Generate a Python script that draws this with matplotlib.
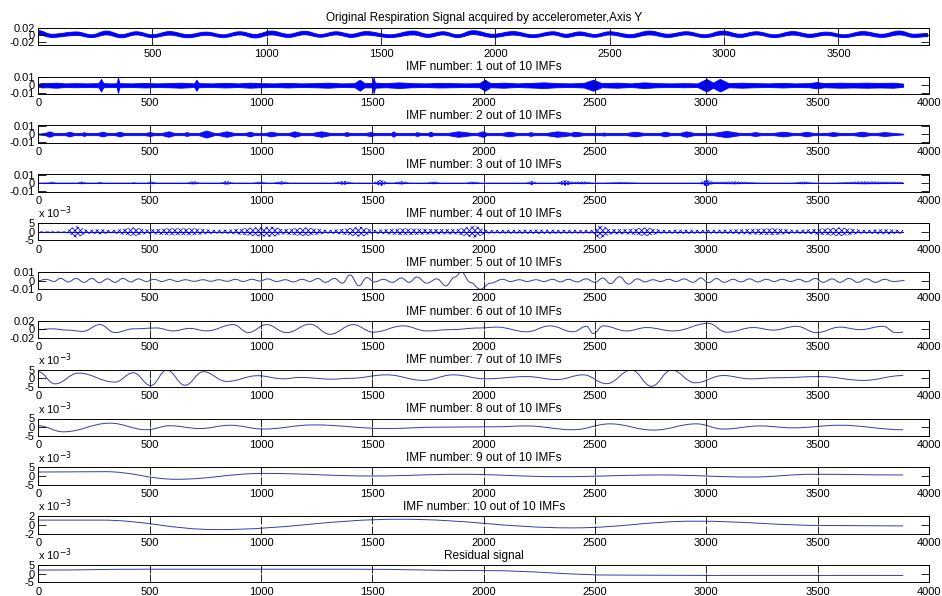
import numpy as np
import matplotlib.pyplot as plt
from matplotlib.path import Path
from matplotlib.patches import PathPatch

plt.rcParams['font.family'] = ['Liberation Sans', 'DejaVu Sans']
plt.rcParams['hatch.linewidth'] = 0.6

# original breathing signal: centre of the noisy trace and its half thickness (x 1e-3)
orig_x = [0, 60, 168, 235, 299, 365, 430, 500, 576, 655, 736, 810, 882, 950, 1020, 1095,
          1166, 1235, 1304, 1370, 1435, 1540, 1640, 1705, 1771, 1835, 1902, 1990, 2077,
          2165, 2252, 2310, 2368, 2435, 2500, 2590, 2674, 2755, 2835, 2915, 2995, 3070,
          3141, 3220, 3301, 3375, 3447, 3525, 3607, 3690, 3767, 3830, 3890]
orig_c = [7, -2, 4, -3, 6, -3, 5, -3, 5, -3, 4, -3, 5, -3, 6, -2,
          6, -2, 5, -2, 5, -3, 6, -2, 5, -3, 7, -2, 5,
          -3, 5, -2, 4, -2, 5, -3, 6, -2, 5, -3, 6, -2,
          5, -3, 5, -2, 4, -3, 5, -2, 6, -2, 0]
orig_hw = [6, 4.5, 5, 4, 5.5, 4.5, 4.5, 4, 5, 4.5, 4.5, 4, 4.5, 5, 5.5, 4.5,
           5, 4, 4.5, 4.5, 5, 4, 5.5, 4.5, 4.5, 4, 5.5, 4.5, 5,
           4, 4.5, 4.5, 5, 4, 4.5, 4.5, 5.5, 4.5, 4.5, 4, 5.5, 4.5,
           4.5, 4, 5, 4.5, 4.5, 4, 5, 4.5, 5.5, 4.5, 4.5]

# IMF 1..4: half width of the oscillation band (x 1e-3)
imf1_x = [0, 15, 40, 80, 120, 170, 220, 270, 282, 292, 330, 352, 358, 364, 420, 480,
          530, 580, 640, 700, 710, 720, 780, 840, 900, 950, 1000, 1060, 1120, 1180,
          1240, 1300, 1360, 1420, 1444, 1465, 1500, 1506, 1512, 1560, 1620, 1680, 1740,
          1800, 1860, 1920, 1980, 2006, 2030, 2090, 2150, 2210, 2270, 2330, 2390, 2450,
          2492, 2530, 2600, 2660, 2720, 2780, 2840, 2900, 2960, 3001, 3030, 3061, 3100,
          3160, 3220, 3280, 3340, 3400, 3460, 3495, 3530, 3600, 3660, 3720, 3780, 3840,
          3884]
imf1_hw = [1.8, 2.9, 2.6, 3.2, 2.3, 2.6, 2.3, 2.6, 8, 2.6, 2.3, 2.6, 10, 2.6, 2.3, 2.9,
           2.3, 2.6, 3.2, 2.3, 7, 2.6, 2.3, 2.9, 2.3, 3.2, 2.6, 2.3, 2.9, 2.3,
           2.6, 3.2, 2.3, 2.6, 7, 2.6, 2.9, 10, 3.2, 2.6, 3.6, 2.6, 2.3,
           2.9, 2.6, 2.3, 2.6, 7, 2.6, 3.2, 2.3, 2.9, 3.6, 2.6, 2.3, 2.9,
           7, 2.6, 3.2, 2.3, 3.6, 2.6, 2.3, 2.6, 2.3, 8, 3.2, 8, 2.6,
           3.2, 2.6, 2.3, 2.9, 2.3, 2.6, 4, 2.6, 3.2, 2.9, 3.2, 2.9, 3.2,
           2]

imf2_x = [0, 30, 50, 70, 120, 140, 160, 195, 205, 215, 265, 290, 310, 345, 365, 385,
          480, 500, 520, 555, 585, 610, 655, 666, 680, 720, 755, 790, 810, 845, 880,
          930, 950, 970, 1020, 1045, 1075, 1125, 1150, 1180, 1230, 1270, 1310, 1370,
          1385, 1400, 1470, 1490, 1510, 1585, 1594, 1605, 1690, 1700, 1715, 1750, 1760,
          1775, 1840, 1885, 1930, 1950, 1970, 1995, 2015, 2080, 2115, 2150, 2200, 2210,
          2225, 2280, 2330, 2390, 2410, 2450, 2530, 2540, 2550, 2640, 2680, 2720, 2790,
          2815, 2840, 2880, 2910, 2945, 3030, 3090, 3150, 3195, 3220, 3245, 3300, 3345,
          3390, 3420, 3450, 3480, 3540, 3570, 3600, 3660, 3700, 3735, 3765, 3800, 3840,
          3884]
imf2_hw = [0.5, 1.4, 3.5, 1.4, 1.4, 3, 1.4, 1.4, 2.5, 1.4, 1.4, 3, 1.4, 1.4, 3, 1.4,
           1.4, 2.5, 1.4, 1.4, 3.5, 1.4, 1.4, 2.5, 1.4, 1.4, 4.5, 1.4, 1.4, 3.5, 1.4,
           1.4, 3, 1.4, 1.4, 3, 1.4, 1.4, 3.5, 1.4, 1.4, 3.5, 1.4, 1.4,
           2.5, 1.4, 1.4, 2.5, 1.4, 1.4, 3.5, 1.4, 1.4, 2.5, 1.4, 1.4, 3,
           1.4, 1.4, 3.5, 2, 1.4, 1.4, 3.5, 1.4, 1.4, 3, 1.4, 1.4, 2.5,
           1.4, 1.4, 3.5, 1.6, 3, 1.4, 1.4, 2, 1.4, 1.4, 3, 1.4, 1.4,
           3, 1.4, 1.4, 3.5, 1.4, 1.4, 4, 1.4, 1.4, 2.5, 1.4, 1.4, 3,
           1.4, 1.4, 3, 1.4, 1.4, 2.5, 1.4, 1.4, 3, 1.4, 1.4, 2.5, 1.4,
           0.5]

imf3_x = [0, 40, 60, 82, 172, 195, 217, 262, 277, 292, 420, 427, 440, 487, 510, 531,
          666, 696, 726, 816, 846, 876, 965, 995, 1025, 1055, 1090, 1130, 1325, 1370,
          1415, 1504, 1540, 1564, 1594, 1630, 1669, 1744, 1775, 1804, 1923, 1950, 1983,
          2193, 2215, 2238, 2328, 2365, 2402, 2450, 2492, 2537, 2620, 2702, 2971, 3000,
          3031, 3130, 3241, 3390, 3435, 3480, 3570, 3700, 3884]
imf3_hw = [0.5, 0.5, 1.5, 0.5, 0.5, 1.8, 0.5, 0.5, 1.5, 0.5, 0.5, 1.2, 0.5, 0.5, 1.8, 0.5,
           0.5, 2.2, 0.5, 0.5, 2.5, 0.5, 0.5, 1.8, 0.5, 0.5, 2.2, 0.5, 0.5, 2.5,
           0.5, 0.5, 4, 0.8, 0.5, 2.2, 0.5, 0.5, 1.8, 0.5, 0.5, 1.8, 0.5,
           0.5, 3, 0.5, 0.5, 3.5, 1.2, 1.8, 0.5, 0.5, 1.2, 0.5, 0.5, 4.5,
           1.2, 1.8, 0.5, 0.5, 1.8, 0.5, 0.5, 1.8, 1.2]

imf4_x = [0, 120, 170, 217, 280, 330, 430, 490, 580, 700, 790, 860, 970, 1050, 1100,
          1200, 1300, 1360, 1450, 1500, 1640, 1780, 1880, 1960, 2013, 2250, 2490, 2520,
          2570, 2650, 2730, 2800, 2900, 3000, 3100, 3300, 3400, 3480, 3600, 3700, 3800,
          3884]
imf4_hw = [0.3, 0.3, 3.5, 1, 1.5, 0.8, 2.5, 1.2, 2, 2, 1, 1.2, 2.5, 3, 1.5,
           2.5, 1, 1.5, 3, 1, 2, 1.5, 1.5, 3.5, 1, 1.2, 1, 4,
           1.5, 1.5, 2.5, 1, 1.2, 1, 1.2, 2, 1, 1.5, 2.5, 1, 1.5,
           1]

# IMF 5..10 and residual: turning points of the smooth components (x 1e-3)
imf5_x = [0, 35, 70, 100, 135, 170, 205, 240, 275, 310, 345, 380, 415, 450, 485, 520,
          555, 590, 625, 660, 700, 740, 775, 810, 850, 885, 920, 960, 995, 1030, 1070,
          1110, 1145, 1185, 1220, 1255, 1290, 1330, 1365, 1400, 1440, 1475, 1510, 1550,
          1590, 1630, 1665, 1700, 1745, 1790, 1830, 1870, 1900, 1940, 1985, 2030, 2085,
          2120, 2160, 2195, 2235, 2270, 2310, 2345, 2380, 2420, 2460, 2500, 2535, 2570,
          2610, 2650, 2690, 2725, 2760, 2795, 2830, 2865, 2900, 2940, 2975, 3010, 3045,
          3080, 3120, 3155, 3195, 3230, 3270, 3305, 3340, 3380, 3415, 3450, 3490, 3525,
          3565, 3600, 3640, 3680, 3720, 3760, 3800, 3840, 3890]
imf5_v = [0, 1.5, -1, 2.5, -1.5, 2.5, -2, 2.5, -2.5, 2, -2, 2.5, -1.5, 2, -1, 1.5,
          -1, 1.2, -1, 1, -0.8, 1, -0.8, 1, -0.8, 1.5, -1, 1.5, -0.5, 2, -1,
          1, -1.5, 1.5, -1, 2.5, -2, 2.5, -3, 6.5, -6, 3.5, -1.5, 1.5,
          -2, 3, -2, 4, -3, 2, -6, 4, 10, -2, -10, -3, 1.5,
          -1, 1, -1, 1, -1, 1.5, -1.5, 1.5, -1.5, 2, -2, 3, -3.5,
          4.5, -4, 2, -1.5, 1, -1, 1.5, -1, 2, -2, 3, -2.5, 2.5,
          -2, 1.5, -1.5, 2, -1.5, 1.5, -1, 1.5, -1, 1.5, -1.5, 2.5, -2,
          2, -2, 2.5, -2, 2, -2, 1.5, -1, 0]

imf6_x = [0, 60, 130, 200, 277, 344, 427, 531, 606, 680, 756, 876, 943, 1025, 1115,
          1220, 1310, 1414, 1504, 1639, 1744, 1848, 1983, 2060, 2193, 2298, 2402, 2462,
          2492, 2537, 2642, 2732, 2852, 3009, 3091, 3211, 3300, 3405, 3495, 3600, 3690,
          3794, 3850, 3884]
imf6_v = [-1, 1, -2, -5, 11, -8, 1, 3, -4, 2, -4, 11, -8, 11, -8,
          12, -12, 11, -7, 8, -4, -1, 3, 5, -6, 8, -6, 7,
          -10, 8, -4, 4, -4, 14, -7, 4, -2, 7, -8, 5, -1,
          7, -8, -7]

imf7_x = [0, 75, 180, 344, 427, 505, 577, 659, 741, 846, 985, 1100, 1175, 1320, 1400,
          1564, 1729, 1864, 2006, 2193, 2328, 2447, 2552, 2664, 2754, 2844, 2949,
          3076, 3196, 3315, 3510, 3705, 3884]
imf7_v = [3.8, -3.2, 3.0, -2.2, 3.2, -4.2, 4.8, -4.0, 3.8, -1.8, 1.5, -0.3, 0.5, -0.5, 0,
          2.0, -1.2, 2.0, -0.3, 1.0, -0.7, 2.0, -3.1, 4.8, -4.6, 4.8, -2.6,
          1.6, -0.3, 0.3, 1.0, -1.2, 1.6]

imf8_x = [0, 112, 322, 486, 591, 726, 861, 1010, 1235, 1560, 1800, 2043, 2193, 2402,
          2567, 2762, 2956, 3076, 3241, 3390, 3600, 3884]
imf8_v = [0.8, -2.7, 2.3, -1.5, 0.8, -0.8, 1.1, -1.1, 1.3, -0.8, 0, 0.2, 0.7, -1.5,
          1.9, -1.7, 1.9, -1.1, 0.7, -0.4, 1.1, -1.5]

imf9_x = [0, 300, 621, 1010, 1504, 1894, 2343, 2792, 3200, 3480, 3884]
imf9_v = [2.3, 2.5, -1.9, 1.5, 0, 1, -0.4, 0.6, -0.6, 1, 0.6]

imf10_x = [0, 277, 801, 1624, 2400, 2950, 3540, 3884]
imf10_v = [1.1, 1.1, -1.1, 1.3, -0.7, 0.85, -0.15, -0.25]

res_x = [0, 500, 1400, 2000, 2600, 3000, 3884]
res_v = [2.1, 2.6, 2.6, 1.8, -0.8, -1.0, -1.0]

titles = ['Original Respiration Signal acquired by accelerometer,Axis Y'] + \
         ['IMF number: %d out of 10 IMFs' % k for k in range(1, 11)] + ['Residual signal']

# y limits and tick values, in units of 1e-3
ylims = [(-28, 21), (-11, 11), (-11, 11), (-11, 11), (-5, 5), (-10, 10), (-21, 20),
         (-5, 5), (-5, 5), (-5, 5), (-2, 2), (-5, 5)]
yticks = [20, 10, 10, 10, 5, 10, 20, 5, 5, 5, 2, 5]
scaled = [False, False, False, False, True, False, False, True, True, True, True, True]

BLUE = '#0000ff'
SOFT = '#3a3aa8'


def flat_bezier(xs, ys):
    # cubic pieces with flat tangents at each turning point
    verts, codes = [], []
    for x0, y0, x1, y1 in zip(xs[:-1], ys[:-1], xs[1:], ys[1:]):
        d = (x1 - x0) * 0.4
        verts += [(x0 + d, y0), (x1 - d, y1), (x1, y1)]
        codes += [Path.CURVE4] * 3
    return verts, codes


def band(ax, xs, hw, alpha=1.0, hatch=None):
    hw = np.asarray(hw, float) * 1e-3
    if hatch:
        ax.fill_between(xs, -hw, hw, facecolor='none', edgecolor=BLUE, lw=0,
                        hatch=hatch)
        ax.plot(xs, np.zeros(len(xs)), color=BLUE, lw=0.7)
    else:
        ax.fill_between(xs, -hw, hw, color=BLUE, alpha=alpha, lw=0.6)


def smooth_band(ax, xs, c, hw):
    c = np.asarray(c, float) * 1e-3
    hw = np.asarray(hw, float) * 1e-3
    up, lo = c + hw, c - hw
    v1, c1 = flat_bezier(xs, up)
    v2, c2 = flat_bezier(xs[::-1], lo[::-1])
    verts = [(xs[0], up[0])] + v1 + [(xs[-1], lo[-1])] + v2 + [(xs[0], up[0])]
    codes = [Path.MOVETO] + c1 + [Path.LINETO] + c2 + [Path.CLOSEPOLY]
    ax.add_patch(PathPatch(Path(verts, codes), facecolor=BLUE, edgecolor=BLUE, lw=0.6))


def smooth(ax, xs, vs):
    vs = [v * 1e-3 for v in vs]
    v1, c1 = flat_bezier(xs, vs)
    path = Path([(xs[0], vs[0])] + v1, [Path.MOVETO] + c1)
    ax.add_patch(PathPatch(path, fill=False, edgecolor=SOFT, lw=0.7))


fig = plt.figure(figsize=(9.42, 5.96), dpi=100)
W, H = 942.0, 596.0
axes = []
for i in range(12):
    top = 27.7 + 48.85 * i
    ax = fig.add_axes([38.3 / W, 1 - (top + 17.3) / H, 890.7 / W, 17.3 / H])
    axes.append(ax)

smooth_band(axes[0], orig_x, orig_c, orig_hw)
band(axes[1], imf1_x, imf1_hw)
band(axes[2], imf2_x, imf2_hw, alpha=0.95)
band(axes[3], imf3_x, imf3_hw, hatch='xxxxxxxxxx')
band(axes[4], imf4_x, imf4_hw, hatch='xxxxxx')
smooth(axes[5], imf5_x, imf5_v)
smooth(axes[6], imf6_x, imf6_v)
smooth(axes[7], imf7_x, imf7_v)
smooth(axes[8], imf8_x, imf8_v)
smooth(axes[9], imf9_x, imf9_v)
smooth(axes[10], imf10_x, imf10_v)
smooth(axes[11], res_x, res_v)

for i, ax in enumerate(axes):
    lo, hi = ylims[i]
    ax.set_ylim(lo * 1e-3, hi * 1e-3)
    t = yticks[i]
    ax.set_yticks([-t * 1e-3, 0, t * 1e-3])
    if scaled[i]:
        ax.set_yticklabels(['-%d' % t, '0', '%d' % t])
        ax.text(0.0, 1.1, r'x 10$^{-3}$', transform=ax.transAxes, fontsize=8,
                ha='left', va='bottom')
    else:
        ax.set_yticklabels(['-%g' % (t / 1000.0), '0', '%g' % (t / 1000.0)])
    if i == 0:
        ax.set_xlim(1, 3896)
        ax.set_xticks(range(500, 3501, 500))
    else:
        ax.set_xlim(0, 4000)
        ax.set_xticks(range(0, 4001, 500))
    ax.tick_params(direction='in', length=5.5, width=0.6, top=True, right=True,
                   labelsize=8, color='black')
    ax.tick_params(axis='x', pad=3)
    ax.tick_params(axis='y', pad=2.5)
    for s in ax.spines.values():
        s.set_linewidth(0.7)
    ax.set_title(titles[i], fontsize=8.5, pad=4.5)

fig.savefig('out.png', dpi=100)
